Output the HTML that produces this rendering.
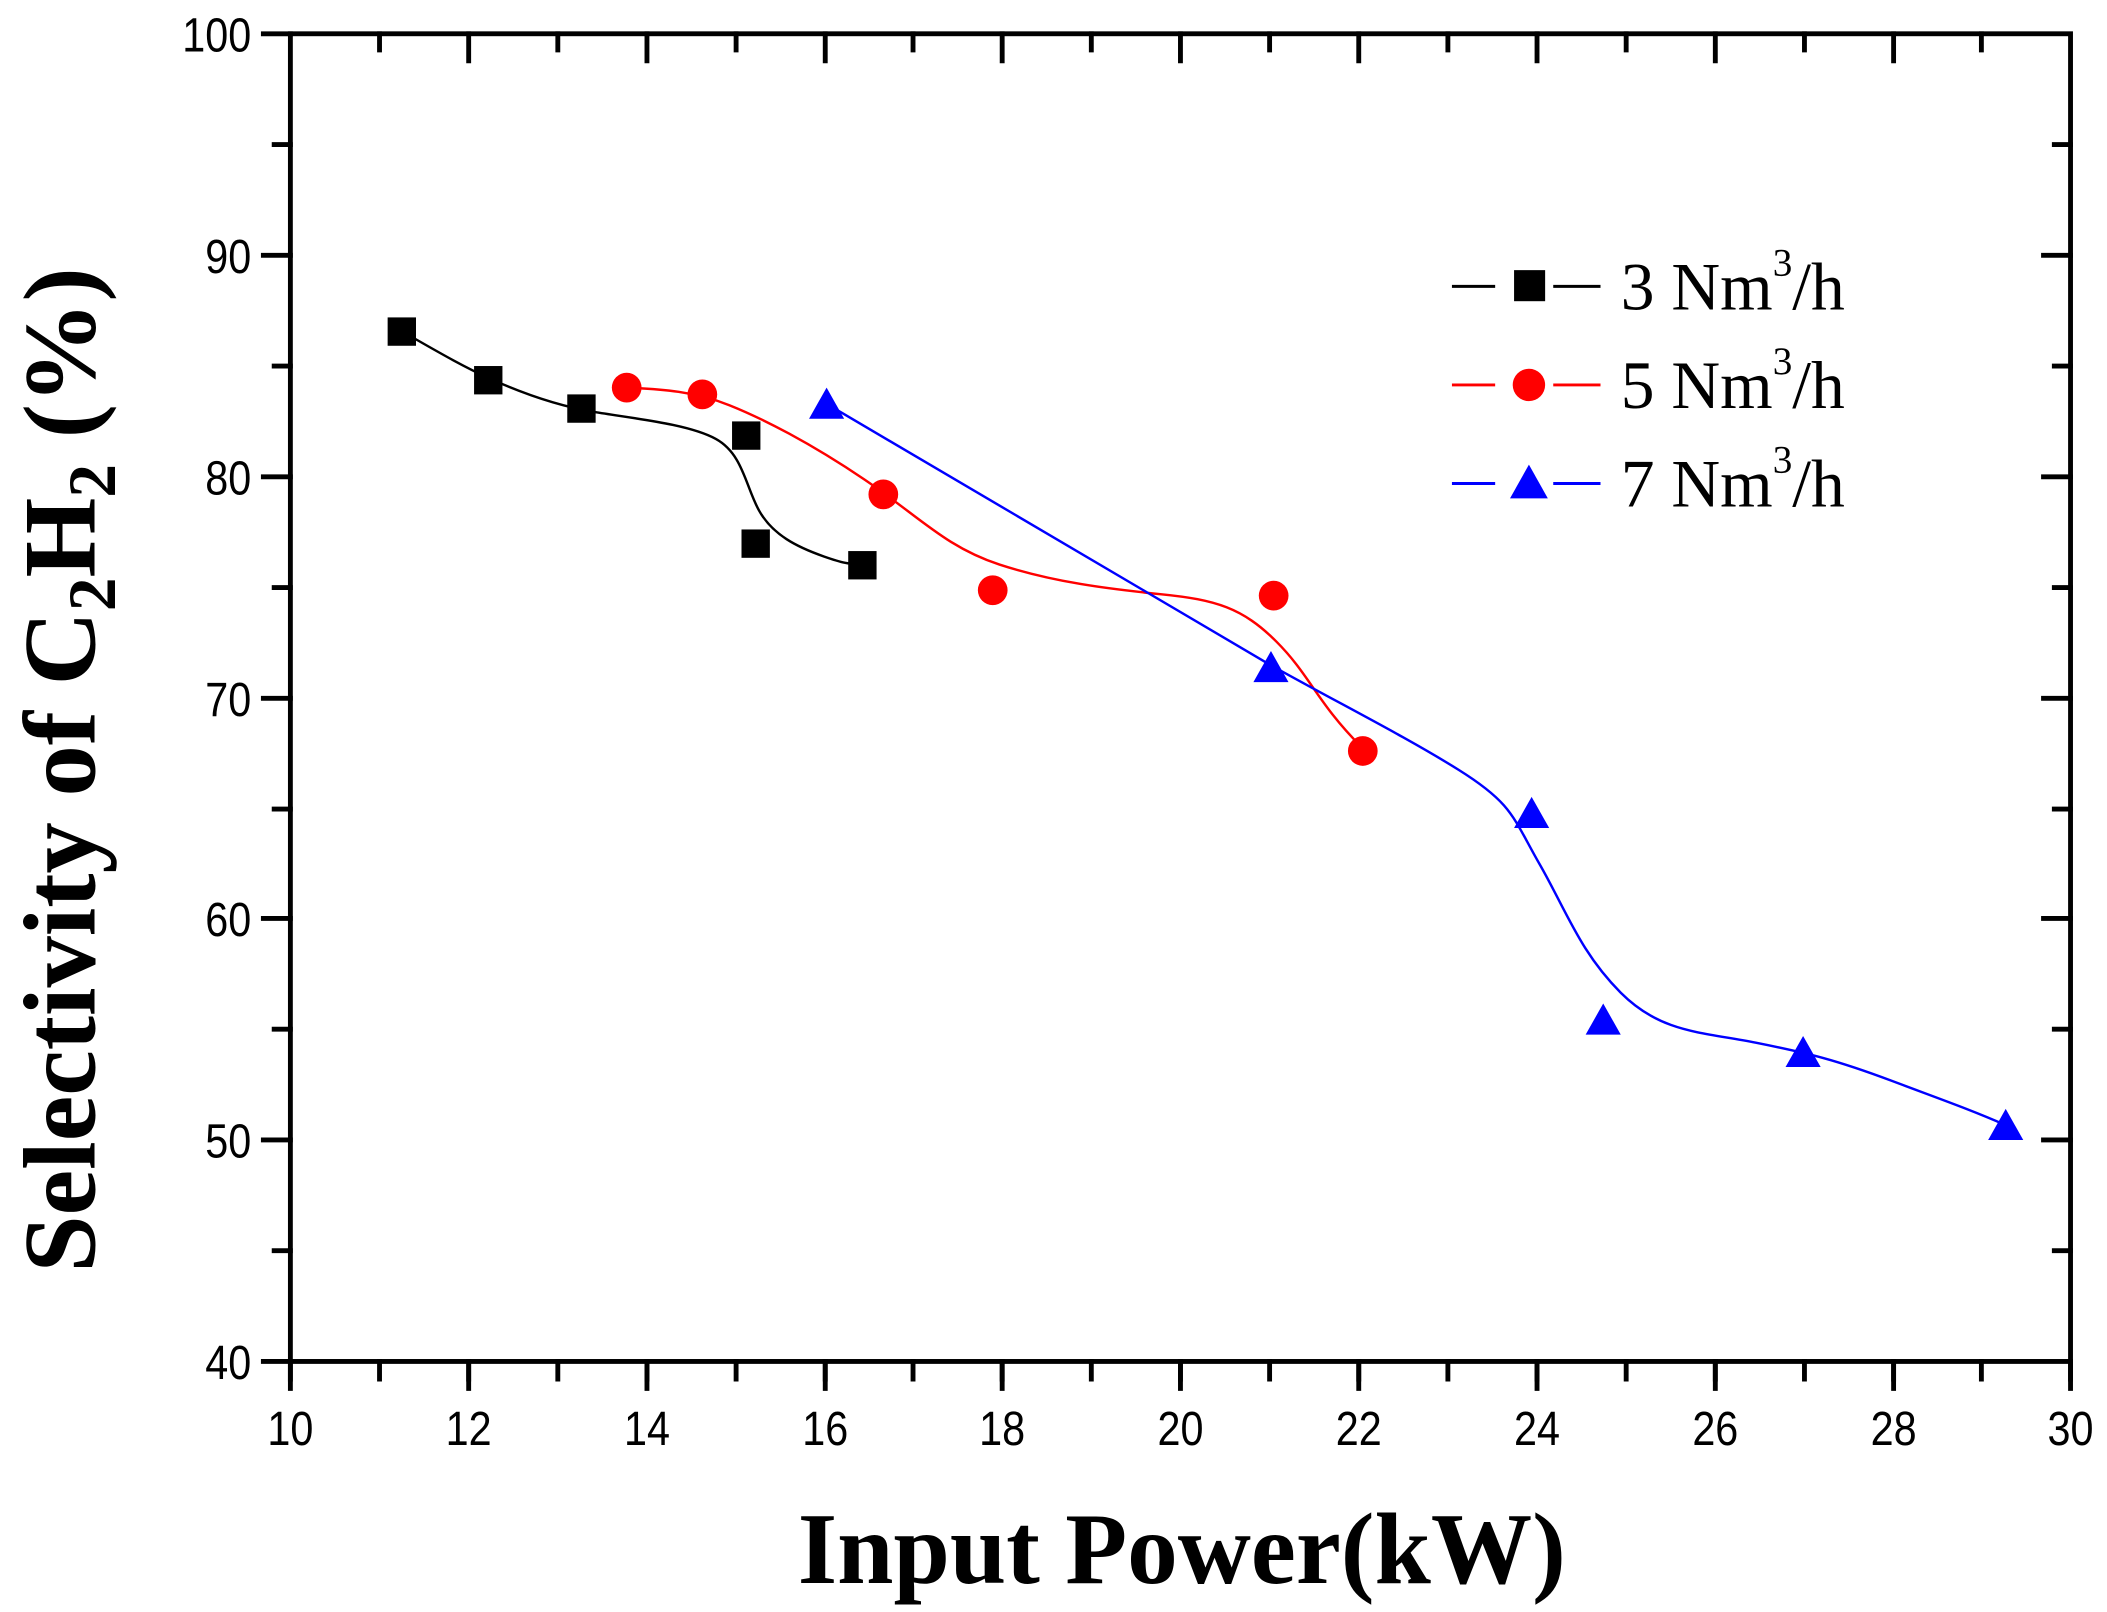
<!DOCTYPE html>
<html><head><meta charset="utf-8"><style>
html,body{margin:0;padding:0;background:#fff;}
svg{display:block;}
.t{font-family:"Liberation Sans",sans-serif;font-size:36px;}
.ti{font-family:"Liberation Serif",serif;font-weight:bold;}
.lg{font-family:"Liberation Serif",serif;font-size:50px;}
</style></head><body>
<svg width="2107" height="1612" viewBox="0 0 1560 1193.5" xmlns="http://www.w3.org/2000/svg">
<rect width="1560" height="1193.5" fill="#fff"/>
<g stroke="#000" stroke-width="3.6" fill="none" stroke-linecap="square">
<rect x="215" y="25" width="1318" height="983"/>
<path d="M215 1008v13M281 1008v13M347 1008v13M413 1008v13M479 1008v13M545 1008v13M611 1008v13M676 1008v13M742 1008v13M808 1008v13M874 1008v13M940 1008v13M1006 1008v13M1072 1008v13M1138 1008v13M1204 1008v13M1270 1008v13M1336 1008v13M1402 1008v13M1467 1008v13M1533 1008v13"/>
<path d="M215 1008v20M347 1008v20M479 1008v20M611 1008v20M742 1008v20M874 1008v20M1006 1008v20M1138 1008v20M1270 1008v20M1402 1008v20M1533 1008v20"/>
<path d="M281 25v12M413 25v12M545 25v12M676 25v12M808 25v12M940 25v12M1072 25v12M1204 25v12M1336 25v12M1467 25v12"/>
<path d="M347 25v20M479 25v20M611 25v20M742 25v20M874 25v20M1006 25v20M1138 25v20M1270 25v20M1402 25v20"/>
<path d="M215 1008h-20M215 844h-20M215 680h-20M215 517h-20M215 353h-20M215 189h-20M215 25h-20"/>
<path d="M215 926h-12M215 762h-12M215 599h-12M215 435h-12M215 271h-12M215 107h-12"/>
<path d="M1533 844h-20M1533 680h-20M1533 517h-20M1533 353h-20M1533 189h-20"/>
<path d="M1533 926h-12M1533 762h-12M1533 599h-12M1533 435h-12M1533 271h-12M1533 107h-12"/>
</g>
<g class="t" text-anchor="middle">
<text x="215" y="1070" transform="translate(215 0) scale(0.85 1) translate(-215 0)">10</text>
<text x="347" y="1070" transform="translate(347 0) scale(0.85 1) translate(-347 0)">12</text>
<text x="479" y="1070" transform="translate(479 0) scale(0.85 1) translate(-479 0)">14</text>
<text x="611" y="1070" transform="translate(611 0) scale(0.85 1) translate(-611 0)">16</text>
<text x="742" y="1070" transform="translate(742 0) scale(0.85 1) translate(-742 0)">18</text>
<text x="874" y="1070" transform="translate(874 0) scale(0.85 1) translate(-874 0)">20</text>
<text x="1006" y="1070" transform="translate(1006 0) scale(0.85 1) translate(-1006 0)">22</text>
<text x="1138" y="1070" transform="translate(1138 0) scale(0.85 1) translate(-1138 0)">24</text>
<text x="1270" y="1070" transform="translate(1270 0) scale(0.85 1) translate(-1270 0)">26</text>
<text x="1402" y="1070" transform="translate(1402 0) scale(0.85 1) translate(-1402 0)">28</text>
<text x="1533" y="1070" transform="translate(1533 0) scale(0.85 1) translate(-1533 0)">30</text>
</g>
<g class="t" text-anchor="end">
<text x="186" y="1021" transform="translate(186 0) scale(0.85 1) translate(-186 0)">40</text>
<text x="186" y="857" transform="translate(186 0) scale(0.85 1) translate(-186 0)">50</text>
<text x="186" y="693" transform="translate(186 0) scale(0.85 1) translate(-186 0)">60</text>
<text x="186" y="530" transform="translate(186 0) scale(0.85 1) translate(-186 0)">70</text>
<text x="186" y="366" transform="translate(186 0) scale(0.85 1) translate(-186 0)">80</text>
<text x="186" y="202" transform="translate(186 0) scale(0.85 1) translate(-186 0)">90</text>
<text x="186" y="38" transform="translate(186 0) scale(0.85 1) translate(-186 0)">100</text>
</g>
<text class="ti" x="875" y="1172" font-size="75" text-anchor="middle">Input Power(kW)</text>
<text class="ti" transform="translate(70 570) rotate(-90)" font-size="76" text-anchor="middle">Selectivity of C<tspan font-size="50" dy="15">2</tspan><tspan dy="-15">H</tspan><tspan font-size="50" dy="15">2</tspan><tspan dy="-15"> (%)</tspan></text>
<path fill="none" stroke="#000" stroke-width="1.8" d="M297 245 C320 258 340 270 362 280 S410 300 440 305 S510 314 530 325 S552 360 562 378 S590 405 610 412 S630 417 640 418"/>
<path fill="none" stroke="#f00" stroke-width="1.8" d="M464 287 C490 288 515 290 540 300 S600 328 640 355 S700 405 740 418 S820 436 860 440 S920 450 945 475 S975 520 1008 553"/>
<path fill="none" stroke="#00f" stroke-width="1.8" d="M612 299 L940 492 C990 520 1040 545 1080 570 S1120 605 1140 640 S1170 705 1200 735 S1260 764 1300 772 S1360 785 1400 800 S1460 822 1485 833"/>
<g fill="#000">
<rect x="287" y="235" width="21" height="21"/><rect x="351" y="271" width="21" height="21"/><rect x="420" y="292" width="21" height="21"/><rect x="542" y="312" width="21" height="21"/><rect x="549" y="392" width="21" height="21"/><rect x="628" y="408" width="21" height="21"/>
</g>
<g fill="#f00">
<circle cx="464" cy="287" r="11"/><circle cx="520" cy="292" r="11"/><circle cx="654" cy="366" r="11"/><circle cx="735" cy="437" r="11"/><circle cx="943" cy="441" r="11"/><circle cx="1009" cy="556" r="11"/>
</g>
<g fill="#00f">
<path d="M612 287l13 23h-26z"/><path d="M941 482l13 23h-26z"/><path d="M1134 590l13 23h-26z"/><path d="M1187 743l13 23h-26z"/><path d="M1335 767l13 23h-26z"/><path d="M1485 821l13 23h-26z"/>
</g>
<g stroke-width="2.2">
<path d="M1075 212h32M1150 212h35" stroke="#000"/>
<path d="M1075 285h32M1150 285h35" stroke="#f00"/>
<path d="M1075 358h32M1150 358h35" stroke="#00f"/>
</g>
<rect x="1121" y="200" width="23" height="23" fill="#000"/>
<circle cx="1132" cy="285" r="12" fill="#f00"/>
<path d="M1132 344l14 25h-28z" fill="#00f"/>
<g class="lg">
<text x="1200" y="229">3 Nm<tspan font-size="29" dy="-25">3</tspan><tspan dy="25">/h</tspan></text>
<text x="1200" y="302">5 Nm<tspan font-size="29" dy="-25">3</tspan><tspan dy="25">/h</tspan></text>
<text x="1200" y="375">7 Nm<tspan font-size="29" dy="-25">3</tspan><tspan dy="25">/h</tspan></text>
</g>
</svg>
</body></html>
